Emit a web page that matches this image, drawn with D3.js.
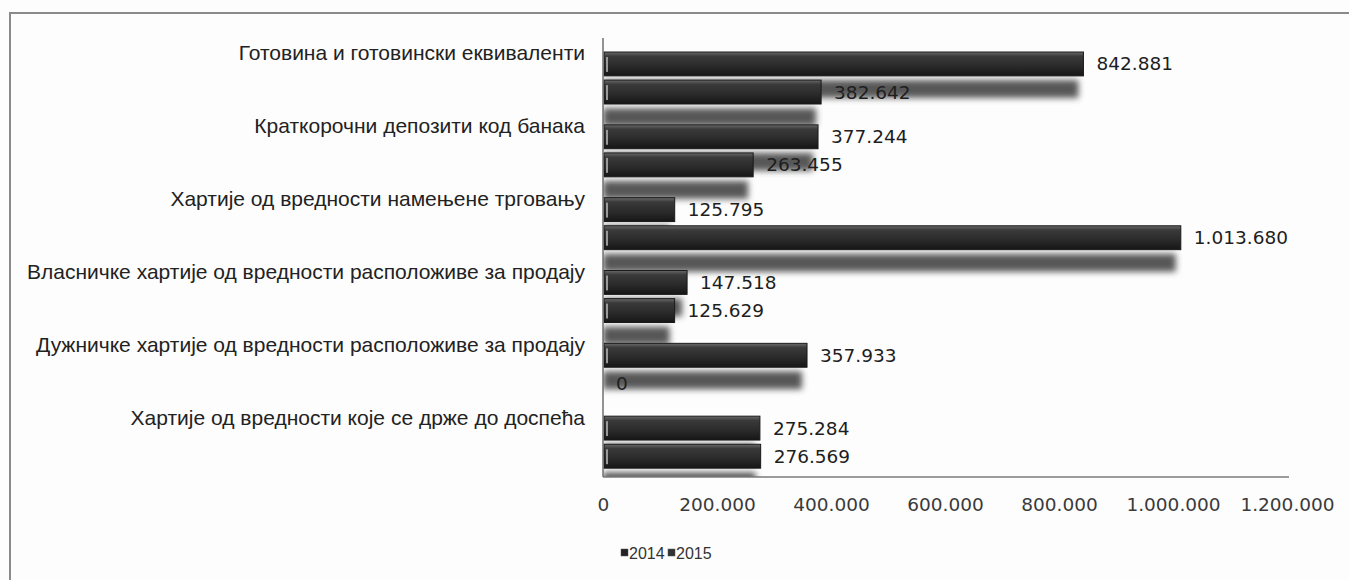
<!DOCTYPE html>
<html>
<head>
<meta charset="utf-8">
<script src="https://cdn.jsdelivr.net/npm/d3@7"></script>
<style>
  body { margin: 0; background: #fdfdfd; }
  svg { display: block; }
</style>
</head>
<body>
<div id="chart"></div>
<script>
var categories = [
  "Готовина и готовински еквиваленти",
  "Краткорочни депозити код банака",
  "Хартије од вредности намењене трговању",
  "Власничке хартије од вредности расположиве за продају",
  "Дужничке хартије од вредности расположиве за продају",
  "Хартије од вредности које се држе до доспећа"
];
var seriesNames = ["2014", "2015"];
var values2014 = [842881, 377244, 125795, 147518, 357933, 275284];
var values2015 = [382642, 263455, 1013680, 125629, 0, 276569];
var xTicks = [0, 200000, 400000, 600000, 800000, 1000000, 1200000];

var W = 1349, H = 580;
var margin = {top: 40, right: 62, bottom: 103, left: 603};

var fmt = function(v) {
  return d3.format(",")(v).replace(/,/g, ".");
};

var rows = [];
categories.forEach(function(c, i) {
  rows.push({cat: c, s: "2014", v: values2014[i]});
  rows.push({cat: c, s: "2015", v: values2015[i]});
});

var svg = d3.select("#chart")
  .append("svg")
    .attr("width", W)
    .attr("height", H);

var defs = svg.append("defs");
var grad = defs.append("linearGradient")
    .attr("id", "barGrad")
    .attr("x1", 0).attr("y1", 0).attr("x2", 0).attr("y2", 1);
grad.append("stop").attr("offset", "0%").attr("stop-color", "#6a6a6a");
grad.append("stop").attr("offset", "18%").attr("stop-color", "#3a3a3a");
grad.append("stop").attr("offset", "60%").attr("stop-color", "#2a2a2a");
grad.append("stop").attr("offset", "100%").attr("stop-color", "#161616");

defs.append("filter")
    .attr("id", "blur")
    .attr("x", "-10%").attr("y", "-60%")
    .attr("width", "120%").attr("height", "220%")
  .append("feGaussianBlur")
    .attr("stdDeviation", 3);

defs.append("clipPath")
    .attr("id", "plotClip")
  .append("rect")
    .attr("x", margin.left)
    .attr("y", margin.top)
    .attr("width", W - margin.left - margin.right)
    .attr("height", H - margin.top - margin.bottom);

// outer frame (top and left edges visible)
svg.append("path")
    .attr("d", "M10," + H + "V13H" + W)
    .attr("fill", "none")
    .attr("stroke", "#8a8a8a")
    .attr("stroke-width", 2);

var x = d3.scaleLinear()
  .domain([0, 1200000])
  .range([margin.left, W - margin.right]);

var y = d3.scaleBand()
  .domain(categories)
  .range([margin.top, H - margin.bottom])
  .paddingInner(0);

var ys = d3.scaleBand()
  .domain(seriesNames)
  .range([12, 64])
  .paddingInner(0.15);

// shadows
svg.append("g")
    .attr("clip-path", "url(#plotClip)")
  .selectAll("rect")
  .data(rows.filter(function(d) { return d.v > 0; }))
  .enter()
  .append("rect")
    .attr("x", x(0))
    .attr("y", function(d) { return y(d.cat) + ys(d.s) + 28; })
    .attr("width", function(d) { return Math.max(0, x(d.v) - x(0) - 5); })
    .attr("height", ys.bandwidth() - 6)
    .attr("fill", "#3a3a3a")
    .attr("opacity", 0.85)
    .attr("filter", "url(#blur)");

// bars
var bars = svg.append("g");
bars.selectAll("rect.bar")
  .data(rows.filter(function(d) { return d.v > 0; }))
  .enter()
  .append("rect")
    .attr("class", "bar")
    .attr("x", x(0) + 1)
    .attr("y", function(d) { return y(d.cat) + ys(d.s); })
    .attr("width", function(d) { return x(d.v) - x(0) - 1; })
    .attr("height", ys.bandwidth())
    .attr("fill", "url(#barGrad)")
    .attr("stroke", "#1a1a1a")
    .attr("stroke-width", 1);

// small highlight at the left end of each bar
bars.selectAll("rect.cap")
  .data(rows.filter(function(d) { return d.v > 0; }))
  .enter()
  .append("rect")
    .attr("class", "cap")
    .attr("x", x(0) + 3)
    .attr("y", function(d) { return y(d.cat) + ys(d.s) + 5; })
    .attr("width", 2)
    .attr("height", ys.bandwidth() - 9)
    .attr("fill", "#9a9a9a");

// axes lines
svg.append("line")
    .attr("x1", x(0)).attr("x2", x(0))
    .attr("y1", margin.top - 2).attr("y2", H - margin.bottom)
    .attr("stroke", "#6f6f6f")
    .attr("stroke-width", 1.5);
svg.append("line")
    .attr("x1", x(0)).attr("x2", x(1200000) + 2)
    .attr("y1", H - margin.bottom).attr("y2", H - margin.bottom)
    .attr("stroke", "#7a7a7a")
    .attr("stroke-width", 1.5);

// x axis labels
var xAxis = svg.append("g")
    .attr("transform", "translate(0," + (H - margin.bottom) + ")")
    .call(d3.axisBottom(x).tickValues(xTicks).tickSize(0).tickPadding(21).tickFormat(fmt));
xAxis.select(".domain").remove();
xAxis.selectAll("text")
    .style("font-family", "DejaVu Sans, Verdana, sans-serif")
    .style("font-size", "18.5px")
    .attr("fill", "#3a3a3a");

// category labels
svg.append("g")
  .selectAll("text")
  .data(categories)
  .enter()
  .append("text")
    .attr("x", margin.left - 18)
    .attr("y", function(d) { return y(d) + 13; })
    .attr("dy", "0.35em")
    .attr("text-anchor", "end")
    .style("font-family", "Liberation Sans, Arial, sans-serif")
    .style("font-size", "21px")
    .attr("fill", "#222")
    .text(function(d) { return d; });

// value labels
svg.append("g")
  .selectAll("text")
  .data(rows)
  .enter()
  .append("text")
    .attr("x", function(d) { return x(d.v) + 13; })
    .attr("y", function(d) { return y(d.cat) + ys(d.s) + ys.bandwidth() / 2; })
    .attr("dy", "0.35em")
    .style("font-family", "DejaVu Sans, Verdana, sans-serif")
    .style("font-size", "18.5px")
    .attr("fill", "#1e1e1e")
    .text(function(d) { return fmt(d.v); });

// legend
var legend = svg.append("g")
    .attr("transform", "translate(621,553)");
var lg = legend.selectAll("g")
  .data(seriesNames)
  .enter()
  .append("g")
    .attr("transform", function(d, i) { return "translate(" + (i * 47) + ",0)"; });
lg.append("rect")
    .attr("x", 0).attr("y", -4)
    .attr("width", 7).attr("height", 7)
    .attr("fill", function(d, i) { return i === 0 ? "#222" : "#333"; })
    .attr("stroke", "#555")
    .attr("stroke-width", 0.5);
lg.append("text")
    .attr("x", 8)
    .attr("y", 0)
    .attr("dy", "0.35em")
    .style("font-family", "Liberation Sans, Arial, sans-serif")
    .style("font-size", "16px")
    .attr("fill", "#333")
    .text(function(d) { return d; });
</script>
</body>
</html>
